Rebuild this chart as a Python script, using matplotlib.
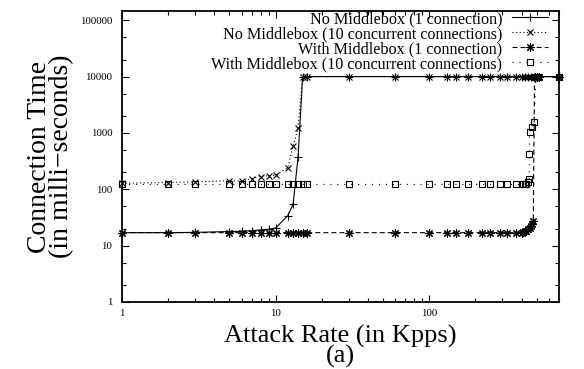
import numpy as np
import matplotlib
matplotlib.use("Agg")
import matplotlib.pyplot as plt
from matplotlib.ticker import LogLocator, FixedFormatter, FixedLocator, NullFormatter

plt.rcParams['font.family'] = ['Liberation Serif', 'DejaVu Serif']
plt.rcParams['lines.scale_dashes'] = False

# attack rates (Kpps) and connection times (ms)
x_nomb_1 = [1, 2, 3, 5, 6, 7, 8, 9, 10, 12, 13, 14, 15, 16, 30, 60, 100, 130, 150,
            180, 220, 250, 290, 320, 370, 400, 420, 440, 460, 480, 500, 520, 700]
y_nomb_1 = [17, 17, 17.2, 17.8, 18, 18.5, 19, 19.5, 20.5, 34, 54, 370, 10000, 10000,
            10000, 10000, 10000, 10000, 10000, 10000, 10000, 10000, 10000, 10000,
            10000, 10000, 10000, 10000, 10000, 10000, 10000, 10000, 10000]

x_nomb_10 = x_nomb_1
y_nomb_10 = [128, 132, 135, 142, 140, 155, 168, 175, 178, 240, 590, 1200, 10000, 10000,
             10000, 10000, 10000, 10000, 10000, 10000, 10000, 10000, 10000, 10000,
             10000, 10000, 10000, 10000, 10000, 10000, 10000, 10000, 10000]

x_mb_1 = [1, 2, 3, 5, 6, 7, 8, 9, 10, 12, 13, 14, 15, 16, 30, 60, 100, 130, 150, 180,
          220, 250, 290, 320, 370, 400, 410, 420, 430, 440, 450, 460, 470, 476, 485,
          500, 520, 700]
y_mb_1 = [17, 17, 17, 17, 17, 17, 17, 17, 17, 17, 17, 17, 17, 17, 17, 17, 17, 17, 17,
          17, 17, 17, 17, 17, 17, 17, 17.5, 18, 18.5, 19.5, 20.5, 22, 24, 27, 10000,
          10000, 10000, 10000]

x_mb_10 = [1, 2, 3, 5, 6, 7, 8, 9, 10, 12, 13, 14, 15, 16, 30, 60, 100, 130, 150, 180,
           220, 250, 290, 320, 370, 400, 410, 420, 430, 440, 448, 449, 450, 468, 482,
           495, 510, 700]
y_mb_10 = [122, 122, 122, 122, 122, 122, 122, 122, 122, 122, 122, 122, 122, 122, 122,
           122, 122, 122, 122, 122, 122, 122, 122, 122, 122, 122, 123, 124, 126, 135,
           155, 430, 1060, 1250, 1550, 10000, 10000, 10000]

labels = ["No Middlebox (1 connection)",
          "No Middlebox (10 concurrent connections)",
          "With Middlebox (1 connection)",
          "With Middlebox (10 concurrent connections)"]

fig = plt.figure(figsize=(5.84, 3.69), dpi=100)
ax = fig.add_axes([0.2089, 0.1816, 0.7483, 0.7886])

lw = 0.8
ax.plot(x_nomb_1, y_nomb_1, color='black', lw=lw, ls='-', marker='+', ms=6,
        mew=0.8, label=labels[0], clip_on=False)
ax.plot(x_nomb_10, y_nomb_10, color='black', lw=lw, ls=(0, (0.8, 1.8)), marker='x',
        ms=5, mew=0.8, label=labels[1], clip_on=False)
ax.plot(x_mb_1, y_mb_1, color='black', lw=lw, ls=(0, (3.6, 2.2)), marker=(8, 2, 0),
        ms=6, mew=0.8, label=labels[2], clip_on=False)
ax.plot(x_mb_10, y_mb_10, color='black', lw=lw, ls=(0, (0.8, 4.2)), marker='s',
        ms=5, mew=0.8, mfc='none', label=labels[3], clip_on=False)

ax.set_xscale('log')
ax.set_yscale('log')
ax.set_xlim(1, 700)
ax.set_ylim(1, 146000)

ax.xaxis.set_major_locator(FixedLocator([1, 10, 100]))
ax.xaxis.set_major_formatter(FixedFormatter(['1', '10', '100']))
ax.xaxis.set_minor_locator(LogLocator(base=10, subs=np.arange(2, 10)))
ax.xaxis.set_minor_formatter(NullFormatter())
yt = [1, 10, 100, 1000, 10000, 100000]
ax.yaxis.set_major_locator(FixedLocator(yt))
ax.yaxis.set_major_formatter(FixedFormatter([str(v) for v in yt]))
ax.yaxis.set_minor_locator(LogLocator(base=10, subs=[2, 5]))
ax.yaxis.set_minor_formatter(NullFormatter())

ax.tick_params(which='both', direction='in', top=True, right=True, width=0.8,
               labelsize=7.8)
ax.tick_params(which='major', length=4.7)
ax.tick_params(which='minor', length=2.6)
ax.tick_params(axis='y', pad=7)
ax.tick_params(axis='x', pad=5)
for s in ax.spines.values():
    s.set_linewidth(1.3)

ax.set_xlabel("Attack Rate (in Kpps)\n(a)", fontsize=19, linespacing=0.8, labelpad=5)
ax.set_ylabel("Connection Time\n(in milli\u2212seconds)", fontsize=20, linespacing=0.85,
              labelpad=4)

ax.legend(loc='upper right', bbox_to_anchor=(0.975, 1.0), frameon=False,
          markerfirst=False, numpoints=1, fontsize=11.6, handlelength=2.25,
          handletextpad=0.6, labelspacing=-0.06, borderpad=0.0, borderaxespad=0.0)

fig.savefig("out.png", dpi=100)
